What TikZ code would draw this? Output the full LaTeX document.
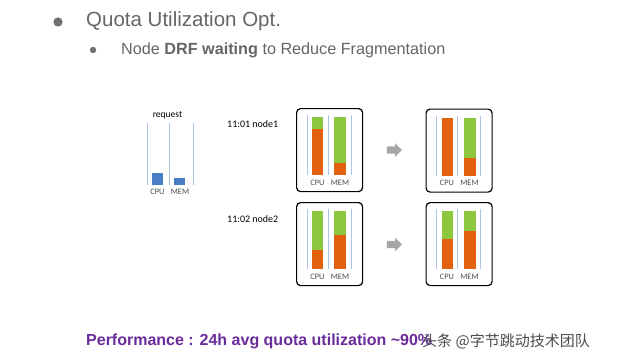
\documentclass[tikz,border=0pt]{standalone}
\usepackage{fontspec}
\setmainfont{Liberation Sans}
\newfontfamily\calfont{Carlito}
\newfontfamily\cjk{Noto Sans CJK SC}
\usetikzlibrary{shapes.arrows}
\definecolor{txtgray}{HTML}{666666}
\definecolor{bulgray}{HTML}{707070}
\definecolor{barorange}{HTML}{E2600E}
\definecolor{bargreen}{HTML}{8DC63F}
\definecolor{barblue}{HTML}{4A7EC4}
\definecolor{linec}{HTML}{A9C4E4}
\definecolor{arrgray}{HTML}{A6A6A6}
\definecolor{perfpurple}{HTML}{6A2C9A}
\tikzset{
  lbl/.style={font=\calfont\fontsize{8.3}{9}\selectfont, text=black!70, inner sep=0pt},
  tlbl/.style={font=\calfont\fontsize{10}{12}\selectfont, text=black, inner sep=0pt, anchor=west},
  guide/.style={draw=linec, line width=0.8pt},
  nodebox/.style={draw=black, line width=1.2pt, rounded corners=4pt, minimum width=66pt, minimum height=83pt, anchor=north west, inner sep=0pt},
  blockarrow/.style={single arrow, fill=arrgray, draw=none, minimum height=15pt, inner xsep=0pt, inner ysep=3.5pt, single arrow head extend=3pt, single arrow tip angle=90}
}
% #1 name, #2 x, #3 y, #4 cpu fraction, #5 mem fraction
\newcommand\drawpanel[5]{%
  \node[nodebox] (#1) at (#2,#3) {};
  \begin{scope}[shift={(#2,#3)}]
    \fill[bargreen] (16,9) rectangle (27,67);
    \fill[barorange] (16,{67-58*#4}) rectangle (27,67);
    \fill[bargreen] (38,9) rectangle (50,67);
    \fill[barorange] (38,{67-58*#5}) rectangle (50,67);
    \draw[guide] (11,7) -- (11,67);
    \draw[guide] (32,7) -- (32,67);
    \draw[guide] (55,7) -- (55,67);
    \node[lbl] (#1-cpu) at (21.5,74.5) {CPU};
    \node[lbl] (#1-mem) at (44,74.5) {MEM};
  \end{scope}
}
\begin{document}
\begin{tikzpicture}[x=1pt,y=-1pt]
\useasboundingbox[fill=white] (0,0) rectangle (640,361);
% header
\fill[bulgray] (58,22) circle (4.6);
\node[anchor=west, inner sep=0pt, text=txtgray, font=\fontsize{20.5}{24}\selectfont] (title) at (86,21) {Quota Utilization Opt.};
\fill[bulgray] (93,50) circle (3.2);
\node[anchor=west, inner sep=0pt, text=txtgray, font=\fontsize{16.2}{19}\selectfont] (sub) at (121,50.5) {Node \textbf{DRF waiting} to Reduce Fragmentation};
% request
\node[lbl, font=\calfont\fontsize{9.5}{11}\selectfont, text=black] (req) at (167.5,115) {request};
\fill[barblue] (152,173) rectangle (163,185);
\fill[barblue] (174,178) rectangle (185,185);
\draw[guide] (147,123) -- (147,185);
\draw[guide] (169,123) -- (169,185);
\draw[guide] (193,123) -- (193,185);
\node[lbl] (req-cpu) at (157.5,191.5) {CPU};
\node[lbl] (req-mem) at (180,191.5) {MEM};
% node labels
\node[tlbl] (l1) at (227,124) {11:01 node1};
\node[tlbl] (l2) at (227,219) {11:02 node2};
% panels
\drawpanel{n1}{296}{108}{0.80}{0.20}
\drawpanel{n2}{296}{202}{0.33}{0.59}
\drawpanel{r1}{425.5}{108.5}{1.0}{0.30}
\drawpanel{r2}{425.5}{202}{0.52}{0.66}
% arrows
\node[blockarrow] (a1) at (392.5,150) {};
\node[blockarrow] (a2) at (392.5,244.5) {};
% bottom
\node[anchor=west, inner sep=0pt, text=perfpurple, font=\bfseries\fontsize{16}{19}\selectfont] (perf) at (86,341) {Performance : 24h avg quota utilization \textasciitilde 90\%};
\node[anchor=west, inner sep=0pt, text=black!70, font=\cjk\fontsize{15}{18}\selectfont] (wm) at (422,341) {头条 @字节跳动技术团队};
\end{tikzpicture}
\end{document}
